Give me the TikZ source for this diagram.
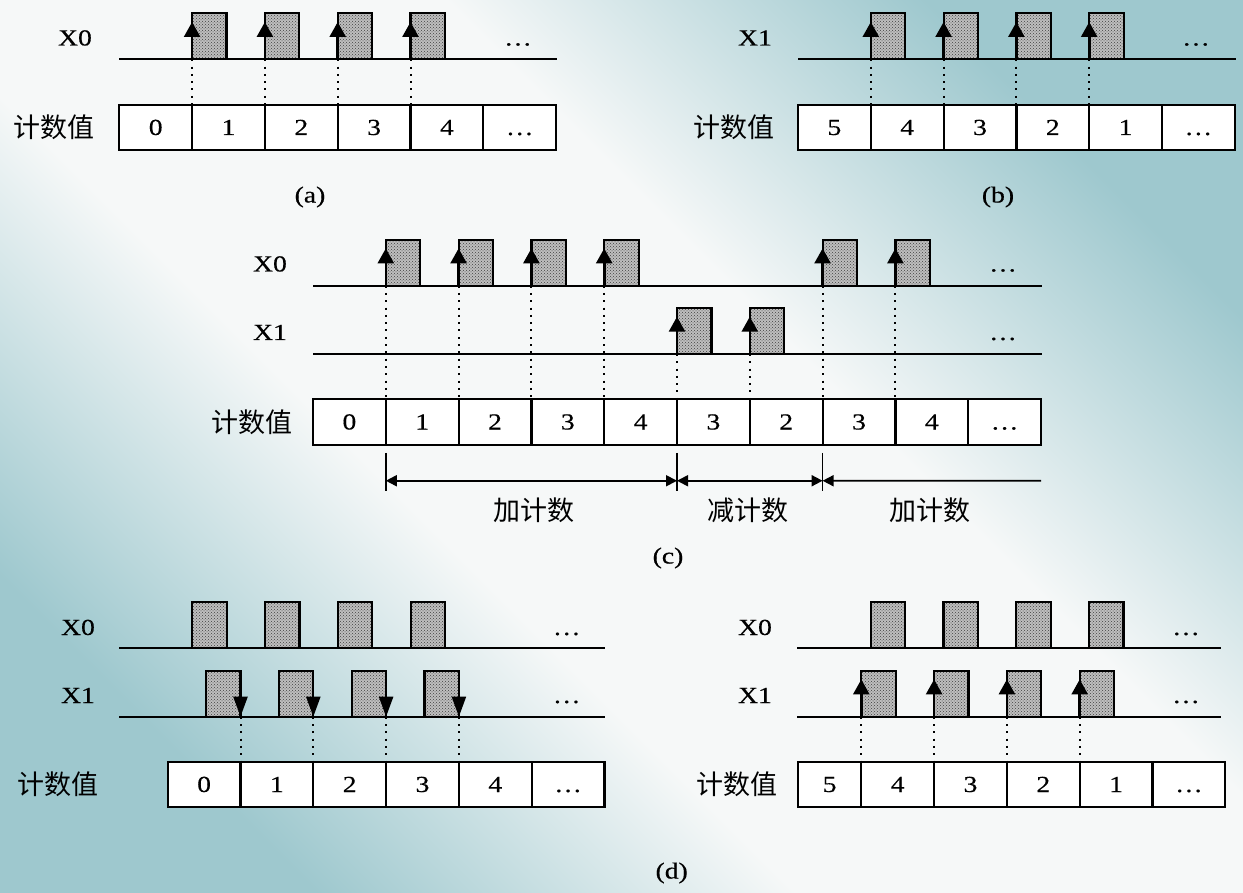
\documentclass[tikz,border=0pt]{standalone}
\usepackage{fontspec}
\setmainfont{Liberation Serif}[FakeStretch=1.2, FakeBold=0.4]
\newfontfamily\cjk{Noto Sans CJK SC}
\usetikzlibrary{arrows.meta, positioning, patterns, calc}

\definecolor{bgteal}{RGB}{158,200,206}
\definecolor{bgwhite}{RGB}{246,248,248}
\definecolor{pulsegray}{RGB}{190,190,190}
\pgfdeclareverticalshading{backdrop}{100bp}{color(0bp)=(bgteal); color(25bp)=(bgteal);
    color(33bp)=(bgteal!50!bgwhite); color(41bp)=(bgwhite); color(59bp)=(bgwhite);
    color(67bp)=(bgteal!50!bgwhite); color(75bp)=(bgteal); color(100bp)=(bgteal)}

\begin{document}
\begin{tikzpicture}[x=1pt, y=-1pt,
    every node/.style={font=\fontsize{23}{27}\selectfont, inner sep=0pt, outer sep=0pt},
    cell/.style={draw, line width=2.2pt, fill=white, minimum width=72.8pt,
                 minimum height=45.5pt, text height=15pt, text depth=0pt},
    pulse/.style={draw, line width=2.2pt, preaction={fill=pulsegray},
                  pattern=crosshatch dots, pattern color=black!75,
                  minimum width=34.4pt, minimum height=46pt},
    wire/.style={line width=2.2pt},
    risearrow/.style={line width=2.6pt, -{Triangle[length=15pt, width=16pt]}},
    fallarrow/.style={line width=2.2pt, -{Triangle[length=20pt, width=14pt]}},
    sync/.style={line width=2pt, dash pattern=on 2pt off 5.3pt},
    endtick/.style={line width=1.5pt},
    spanarrow/.style={line width=1.8pt, {Triangle[length=11pt, width=11pt]}-{Triangle[length=11pt, width=11pt]}},
    spanstart/.style={line width=1.8pt, {Triangle[length=11pt, width=11pt]}-},
    sig/.style={anchor=base},
    hz/.style={font=\cjk\fontsize{27}{30}\selectfont},
]
    \useasboundingbox (0,0) rectangle (1243,893);
    \shade[shading=backdrop, shading angle=-45] (0,0) rectangle (1243,893);

    % (a) X0 rising edges, counting up
    \coordinate (la) at (0,59.3);
    \draw[wire] (119.3,59.3) -- (557,59.3);
    \node[cell, anchor=west] (a0) at (119.3,127.5) {0};
    \foreach \v [count=\i from 1, remember=\i as \j (initially 0)] in {1,2,3,4,\ldots}
        \node[cell, right=0pt of a\j] (a\i) {\v};
    \foreach \i in {1,...,4} {
        \node[pulse, anchor=south west] (pa\i) at (a\i.north west |- la) {};
        \draw[risearrow] (pa\i.south west) -- ($(pa\i.north west)+(0,8.7)$);
        \draw[sync] (pa\i.south west) -- (a\i.north west);
    }
    \node[sig] (xa) at (75,45.5) {X0};
    \node[sig] at (518,45.5) {\ldots};
    \node[hz, left=25pt of a0] (ka) {计数值};
    \node (capa) at (310,197) {(a)};

    % (b) X1 rising edges, counting down
    \draw[wire] (798,59.3) -- (1236,59.3);
    \node[cell, anchor=west] (b0) at (798,127.5) {5};
    \foreach \v [count=\i from 1, remember=\i as \j (initially 0)] in {4,3,2,1,\ldots}
        \node[cell, right=0pt of b\j] (b\i) {\v};
    \foreach \i in {1,...,4} {
        \node[pulse, anchor=south west] (pb\i) at (b\i.north west |- la) {};
        \draw[risearrow] (pb\i.south west) -- ($(pb\i.north west)+(0,8.7)$);
        \draw[sync] (pb\i.south west) -- (b\i.north west);
    }
    \node[sig] (xb) at (755,45.5) {X1};
    \node[sig] at (1196,45.5) {\ldots};
    \node[hz, left=24pt of b0] (kb) {计数值};
    \node (capb) at (998,197) {(b)};

    % (c) X0 up, X1 down
    \coordinate (lc0) at (0,285.7);
    \coordinate (lc1) at (0,354);
    \draw[wire] (313,285.7) -- (1041.7,285.7);
    \draw[wire] (313,354) -- (1041.7,354);
    \node[cell, anchor=west] (c0) at (313,422) {0};
    \foreach \v [count=\i from 1, remember=\i as \j (initially 0)] in {1,2,3,4,3,2,3,4,\ldots}
        \node[cell, right=0pt of c\j] (c\i) {\v};
    \foreach \i in {1,2,3,4,7,8} {
        \node[pulse, anchor=south west] (pc\i) at (c\i.north west |- lc0) {};
        \draw[risearrow] (pc\i.south west) -- ($(pc\i.north west)+(0,8.7)$);
        \draw[sync] (pc\i.south west) -- (c\i.north west);
    }
    \foreach \i in {5,6} {
        \node[pulse, anchor=south west] (qc\i) at (c\i.north west |- lc1) {};
        \draw[risearrow] (qc\i.south west) -- ($(qc\i.north west)+(0,8.7)$);
        \draw[sync] (qc\i.south west) -- (c\i.north west);
    }
    \node[sig] (xc0) at (270,271.5) {X0};
    \node[sig] (xc1) at (270,340) {X1};
    \node[sig] at (1003,271.5) {\ldots};
    \node[sig] at (1003,340) {\ldots};
    \node[hz, left=21pt of c0] (kc) {计数值};
    \foreach \i in {1,5,7} {
        \draw[endtick] ($(c\i.south west)+(0,8)$) -- ($(c\i.south west)+(0,46)$);
        \coordinate (r\i) at ($(c\i.south west)+(0,36)$);
    }
    \coordinate (rend) at (1041,480.7);
    \draw[spanarrow] (r1) -- (r5);
    \draw[spanarrow] (r5) -- (r7);
    \draw[spanstart] (r7) -- (rend);
    \node[hz] (up1) at (533.6,510) {加计数};
    \node[hz] (down) at (748,510) {减计数};
    \node[hz] (up2) at (930,510) {加计数};
    \node (capc) at (668,558) {(c)};

    % (d) left: X1 falling edges
    \coordinate (ld0) at (0,648.3);
    \coordinate (ld1) at (0,716.7);
    \draw[wire] (119,648.3) -- (605,648.3);
    \draw[wire] (119,716.7) -- (605,716.7);
    \node[cell, anchor=west] (d0) at (167.7,784.5) {0};
    \foreach \v [count=\i from 1, remember=\i as \j (initially 0)] in {1,2,3,4,\ldots}
        \node[cell, right=0pt of d\j] (d\i) {\v};
    \foreach \k in {0,...,3}
        \node[pulse, anchor=south west] (pd\k) at (192.3+72.8*\k,648.3) {};
    \foreach \i in {1,...,4} {
        \node[pulse, anchor=south east] (qd\i) at (d\i.north west |- ld1) {};
        \draw[fallarrow] (qd\i.north east) -- (qd\i.south east);
        \draw[sync] (qd\i.south east) -- (d\i.north west);
    }
    \node[sig] (xd0) at (78,635) {X0};
    \node[sig] (xd1) at (78,703) {X1};
    \node[sig] at (566.7,635) {\ldots};
    \node[sig] at (566.7,703) {\ldots};
    \node[hz, left=69pt of d0] (kd) {计数值};

    % (d) right: X1 rising edges
    \draw[wire] (797.3,648.3) -- (1221.3,648.3);
    \draw[wire] (797.3,716.7) -- (1221.3,716.7);
    \node[cell, anchor=west, minimum width=63.3pt] (e0) at (798,784.5) {5};
    \foreach \v [count=\i from 1, remember=\i as \j (initially 0)] in {4,3,2,1,\ldots}
        \node[cell, right=0pt of e\j] (e\i) {\v};
    \foreach \k in {0,...,3}
        \node[pulse, anchor=south west] (pe\k) at (870.7+72.8*\k,648.3) {};
    \foreach \i in {1,...,4} {
        \node[pulse, anchor=south west] (qe\i) at (e\i.north west |- ld1) {};
        \draw[risearrow] (qe\i.south west) -- ($(qe\i.north west)+(0,8.7)$);
        \draw[sync] (qe\i.south west) -- (e\i.north west);
    }
    \node[sig] (xe0) at (755,635) {X0};
    \node[sig] (xe1) at (755,703) {X1};
    \node[sig] at (1186,635) {\ldots};
    \node[sig] at (1186,703) {\ldots};
    \node[hz, left=21pt of e0] (ke) {计数值};
    \node (capd) at (671.7,873) {(d)};
\end{tikzpicture}
\end{document}
